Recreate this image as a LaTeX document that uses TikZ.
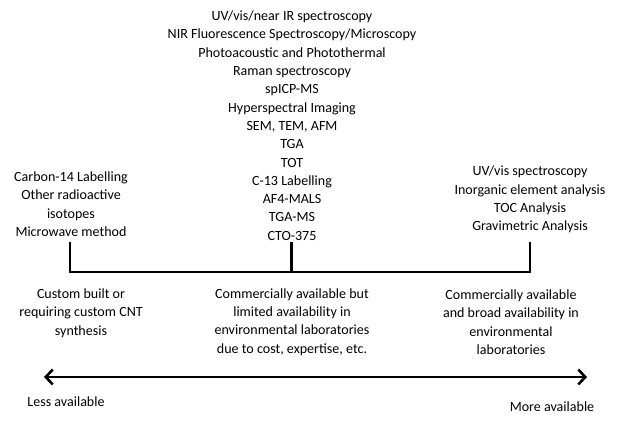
\documentclass[tikz,border=0pt]{standalone}
\usepackage{fontspec}
\setmainfont{Carlito}
\usetikzlibrary{arrows.meta}
\tikzset{
	txt/.style={align=center, inner sep=0pt, font=\fontsize{14.1}{18.4}\selectfont},
	bar/.style={line width=2.6pt, color=black, line cap=rect, line join=miter},
}
\begin{document}
\begin{tikzpicture}[x=1bp, y=-1bp]
			\useasboundingbox (0,0) rectangle (623,421);
			%					\draw[help lines, step=10] (0,0) grid (623,421);
			
			\node (methodsL) at (71,204)[txt]{Carbon-14 Labelling\\Other radioactive\\isotopes\\Microwave method};
			\node (methodsC) at (292,125.5)[txt]{UV/vis/near IR spectroscopy\\NIR Fluorescence Spectroscopy/Microscopy\\Photoacoustic and Photothermal\\Raman spectroscopy\\spICP-MS\\Hyperspectral Imaging\\SEM, TEM, AFM\\TGA\\TOT\\C-13 Labelling\\AF4-MALS\\TGA-MS\\CTO-375};
			\node (methodsR) at (530,199.5)[txt]{UV/vis spectroscopy\\Inorganic element analysis\\TOC Analysis\\Gravimetric Analysis};
			
			\coordinate (tickL) at (70,243);
			\coordinate (tickC) at (291.5,243);
			\coordinate (tickR) at (530,243);
			\coordinate (baseL) at (70,272);
			\coordinate (baseC) at (291.5,272);
			\coordinate (baseR) at (530,272);
			\draw [bar](tickL)--(baseL)--(baseR)--(tickR);
			\draw [bar](tickC)--(baseC);
			
			\node (availL) at (81,313)[txt]{Custom built or\\requiring custom CNT\\synthesis};
			\node (availC) at (292,322)[txt]{Commercially available but\\limited availability in\\environmental laboratories\\due to cost, expertise, etc.};
			\node (availR) at (511,322)[txt]{Commercially available\\and broad availability in\\environmental\\laboratories};
			
			\coordinate (less) at (44,377);
			\coordinate (more) at (587,377);
			\draw [{Straight Barb[length=7pt,width=15pt,line width=2.6pt]}-{Straight Barb[length=7pt,width=15pt,line width=2.6pt]}, line width=2.6pt](less)--(more);
			\node (lessav) at (66,402)[txt]{Less available};
			\node (moreav) at (552,407)[txt]{More available};
			
		\end{tikzpicture}
\end{document}
